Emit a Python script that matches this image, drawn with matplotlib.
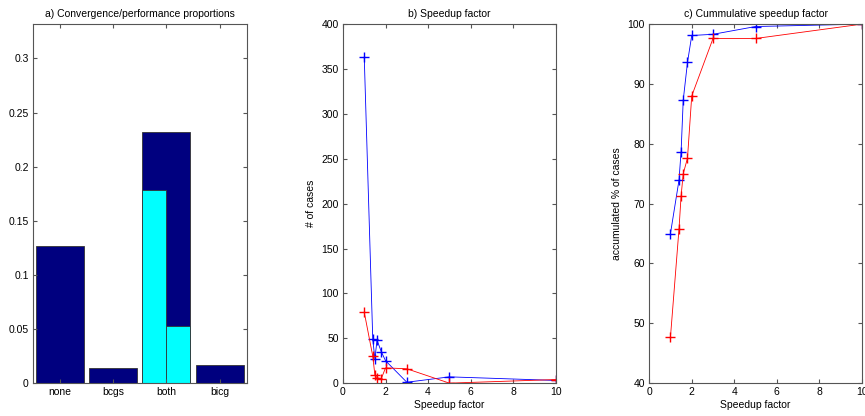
import matplotlib.pyplot as plt
from matplotlib.ticker import MultipleLocator, FuncFormatter

plt.rcParams['font.family'] = ['Liberation Sans', 'DejaVu Sans']
plt.rcParams['font.size'] = 7.5

# a) proportions
categories = ["none", "bcgs", "both", "bicg"]
total_props = [0.127, 0.0138, 0.2317, 0.0169]
both_split = [0.178, 0.053]

# b) and c) speedup histogram
speedup = [1, 1.4, 1.5, 1.6, 1.8, 2, 3, 5, 10]
cases_blue = [363, 49, 27, 48, 35, 25, 1, 7, 3]
cases_red = [79, 30, 9, 6, 5, 17, 16, 0, 4]
cum_blue = [65.0, 73.9, 78.7, 87.3, 93.6, 98.1, 98.3, 99.6, 100]
cum_red = [47.7, 65.7, 71.3, 75.0, 77.6, 88.0, 97.6, 97.6, 100]

navy = "#00007f"
cyan = "#00ffff"
spine_col = "#555555"
fs = 7.5

fig = plt.figure(figsize=(8.65, 4.16), dpi=100)
w, h, b = 0.247, 0.863, 0.079
ax1 = fig.add_axes([0.038, b, w, h])
ax2 = fig.add_axes([0.3965, b, 0.246, h])
ax3 = fig.add_axes([0.7505, b, 0.246, h])


def style(ax):
  for s in ax.spines.values():
    s.set_color(spine_col)
    s.set_linewidth(0.8)
  ax.tick_params(direction='in', top=True, right=True, length=3,
                 color=spine_col, labelsize=fs, pad=3)


# panel a
xs = range(1, len(categories) + 1)
ax1.bar(xs, total_props, width=0.9, color=navy, edgecolor="#333333", linewidth=0.6)
ax1.bar([2.775, 3.225], both_split, width=0.45, color=cyan,
        edgecolor="#333333", linewidth=0.6)
ax1.set_xlim(0.5, 4.5)
ax1.set_ylim(0, 0.3317)
ax1.set_xticks(list(xs))
ax1.set_xticklabels(categories)
ax1.yaxis.set_major_locator(MultipleLocator(0.05))
ax1.yaxis.set_major_formatter(FuncFormatter(lambda v, p: "%g" % round(v, 3)))
ax1.set_title("a) Convergence/performance proportions", fontsize=fs, pad=5)
style(ax1)

# panel b
ax2.plot(speedup, cases_blue, color="blue", marker="+", markersize=6.5, linewidth=0.6)
ax2.plot(speedup, cases_red, color="red", marker="+", markersize=6.5, linewidth=0.6)
ax2.set_xlim(0, 10)
ax2.set_ylim(0, 400)
ax2.xaxis.set_major_locator(MultipleLocator(2))
ax2.yaxis.set_major_locator(MultipleLocator(50))
ax2.set_xlabel("Speedup factor", fontsize=fs, labelpad=2)
ax2.set_ylabel("# of cases", fontsize=fs, labelpad=4)
ax2.set_title("b) Speedup factor", fontsize=fs, pad=5)
style(ax2)

# panel c
ax3.plot(speedup, cum_blue, color="blue", marker="+", markersize=6.5, linewidth=0.6)
ax3.plot(speedup, cum_red, color="red", marker="+", markersize=6.5, linewidth=0.6)
ax3.set_xlim(0, 10)
ax3.set_ylim(40, 100)
ax3.xaxis.set_major_locator(MultipleLocator(2))
ax3.yaxis.set_major_locator(MultipleLocator(10))
ax3.set_xlabel("Speedup factor", fontsize=fs, labelpad=2)
ax3.set_ylabel("accumulated % of cases", fontsize=fs, labelpad=4)
ax3.set_title("c) Cummulative speedup factor", fontsize=fs, pad=5)
style(ax3)

fig.savefig("out.png", dpi=100)
